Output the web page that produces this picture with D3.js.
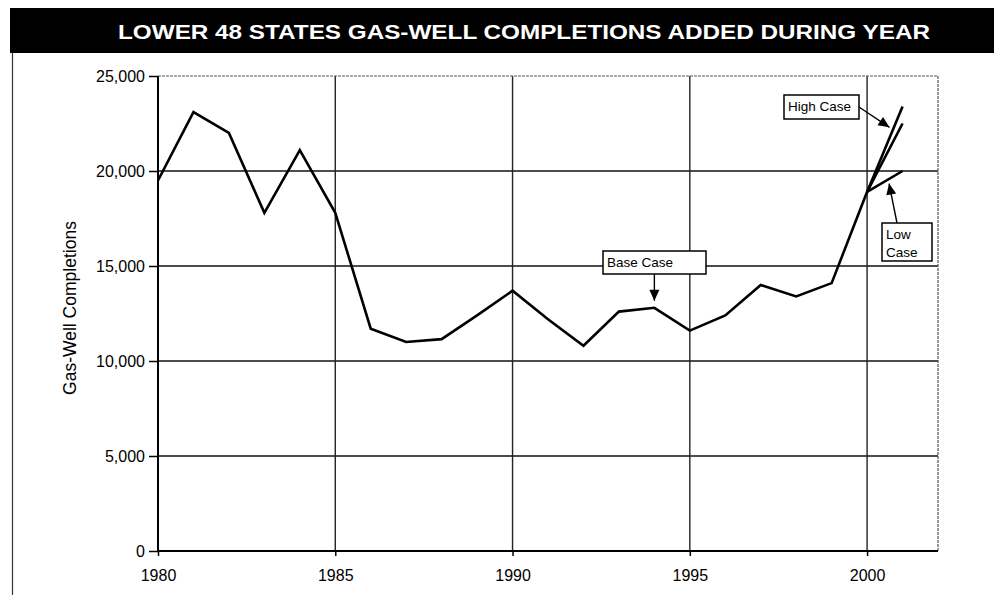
<!DOCTYPE html>
<html>
<head>
<meta charset="utf-8">
<script src="https://cdn.jsdelivr.net/npm/d3@7/dist/d3.min.js"></script>
<style>
  html, body { margin: 0; padding: 0; background: #fff; }
  svg { display: block; font-family: Arial, "Liberation Sans", Helvetica, sans-serif; }
</style>
</head>
<body>
<div id="chart"></div>
<script>
// historical + base case, 1980-2001
const years = d3.range(1980, 2002);
const baseCase = [19500, 23100, 22000, 17800, 21100, 17800, 11700, 11000, 11150, 12400,
                  13700, 12200, 10800, 12600, 12800, 11600, 12400, 14000, 13400, 14100,
                  18900, 22500];
// projections branching off in 2000
const caseYears = [2000, 2001];
const highCase = [18900, 23400];
const lowCase = [18900, 20000];

const yTicks = [0, 5000, 10000, 15000, 20000, 25000];
const xTicks = [1980, 1985, 1990, 1995, 2000];

const width = 996, height = 595;
const titleText = "LOWER 48 STATES GAS-WELL COMPLETIONS ADDED DURING YEAR";
const yTitle = "Gas-Well Completions";

const svg = d3.select("#chart").append("svg")
    .attr("width", width)
    .attr("height", height);

const x = d3.scaleLinear().domain([1980, 2002]).range([158, 938]);
const y = d3.scaleLinear().domain([0, 25000]).range([551, 76]);

// title bar
svg.append("rect")
    .attr("x", 10).attr("y", 8)
    .attr("width", 984).attr("height", 45)
    .attr("fill", "#000");
svg.append("text")
    .attr("x", 524).attr("y", 39)
    .attr("text-anchor", "middle")
    .attr("fill", "#fff")
    .attr("font-weight", "bold")
    .attr("font-size", 21)
    .attr("textLength", 812)
    .attr("lengthAdjust", "spacingAndGlyphs")
    .text(titleText);

// left frame line of the page box
svg.append("line")
    .attr("x1", 12.5).attr("x2", 12.5)
    .attr("y1", 53).attr("y2", height)
    .attr("stroke", "#333").attr("stroke-width", 1.2);

// grid
svg.append("g").selectAll("line")
    .data(yTicks.filter(d => d > 0 && d < 25000))
    .join("line")
    .attr("x1", x(1980)).attr("x2", x(2002))
    .attr("y1", d => y(d)).attr("y2", d => y(d))
    .attr("stroke", "#111").attr("stroke-width", 1.5);

svg.append("g").selectAll("line")
    .data(xTicks.filter(d => d > 1980))
    .join("line")
    .attr("x1", d => x(d)).attr("x2", d => x(d))
    .attr("y1", y(25000)).attr("y2", y(0))
    .attr("stroke", "#222").attr("stroke-width", 1.4);

// top and right border (dotted in the scan)
svg.append("path")
    .attr("d", `M${x(1980)},${y(25000)}H${x(2002)}V${y(0)}`)
    .attr("fill", "none")
    .attr("stroke", "#555")
    .attr("stroke-width", 1.2)
    .attr("stroke-dasharray", "3,1");

// axes
const yAxis = svg.append("g")
    .attr("transform", `translate(${x(1980)},0)`)
    .call(d3.axisLeft(y).tickValues(yTicks).tickSize(9).tickPadding(4)
        .tickFormat(d3.format(",")));
const xAxis = svg.append("g")
    .attr("transform", `translate(0,${y(0)})`)
    .call(d3.axisBottom(x).tickValues(xTicks).tickSize(5).tickPadding(14)
        .tickFormat(d3.format("d")));

[yAxis, xAxis].forEach(g => {
    g.select(".domain").attr("stroke", "#000").attr("stroke-width", 2);
    g.selectAll(".tick line").attr("stroke", "#000").attr("stroke-width", 1.5);
    g.selectAll(".tick text")
        .attr("fill", "#000")
        .attr("font-size", 16)
        .attr("font-family", "Arial, 'Liberation Sans', sans-serif");
});
xAxis.select(".domain").attr("d", `M${x(1980)},0H${x(2002)}`);
yAxis.select(".domain").attr("d", `M0,${y(0)}V${y(25000)}`);

// y axis title
svg.append("text")
    .attr("transform", "translate(76,308) rotate(-90)")
    .attr("text-anchor", "middle")
    .attr("font-size", 17.5)
    .attr("fill", "#000")
    .text(yTitle);

// lines
const line = d3.line().x(d => x(d[0])).y(d => y(d[1]));
const series = [
    d3.zip(caseYears, lowCase),
    d3.zip(caseYears, highCase),
    d3.zip(years, baseCase)
];
svg.append("g").selectAll("path")
    .data(series)
    .join("path")
    .attr("d", line)
    .attr("fill", "none")
    .attr("stroke", "#000")
    .attr("stroke-width", 2.6)
    .attr("stroke-linejoin", "miter");

// annotation helpers
function arrow(x1, y1, x2, y2) {
    svg.append("line")
        .attr("x1", x1).attr("y1", y1).attr("x2", x2).attr("y2", y2)
        .attr("stroke", "#000").attr("stroke-width", 1.4);
    const a = Math.atan2(y2 - y1, x2 - x1), len = 11, w = 5;
    const bx = x2 - len * Math.cos(a), by = y2 - len * Math.sin(a);
    const px = -Math.sin(a) * w, py = Math.cos(a) * w;
    svg.append("path")
        .attr("d", `M${x2},${y2}L${bx + px},${by + py}L${bx - px},${by - py}Z`)
        .attr("fill", "#000");
}
function box(bx, by, bw, bh, lines) {
    svg.append("rect")
        .attr("x", bx).attr("y", by).attr("width", bw).attr("height", bh)
        .attr("fill", "#fff").attr("stroke", "#000").attr("stroke-width", 1.5);
    lines.forEach((t, i) => {
        svg.append("text")
            .attr("x", bx + 4).attr("y", by + 16 + i * 18)
            .attr("font-size", 13.5).attr("fill", "#000")
            .text(t);
    });
}

// Base Case
box(603, 251, 103, 23, ["Base Case"]);
arrow(x(1994), 274, x(1994), y(12800) - 7);

// High Case
box(784, 95, 75, 24, ["High Case"]);
arrow(859, 107, x(2000.63), y(22300));

// Low Case
box(882, 223, 50, 38, ["Low", "Case"]);
arrow(897, 223, x(2000.62), y(19600) + 5);
</script>
</body>
</html>
